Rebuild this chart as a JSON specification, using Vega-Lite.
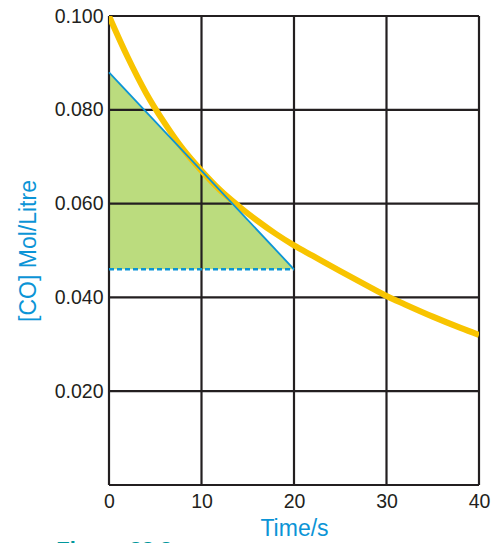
{
  "$schema": "https://vega.github.io/schema/vega-lite/v6.json",
  "autosize": {"type": "none"},
  "width": 370,
  "height": 469,
  "padding": {"left": 109, "top": 16, "right": 13, "bottom": 58},
  "background": "white",
  "config": {
    "view": {"stroke": null},
    "font": "Liberation Sans",
    "axis": {"grid": false, "domain": false, "ticks": false, "labelFont": "Liberation Sans", "labelFontSize": 19.5, "labelColor": "#231F20", "labelFlush": false, "titleFont": "Liberation Sans", "titleFontSize": 23, "titleFontWeight": "normal", "titleColor": "#0B94D6"}
  },
  "title": {"text": "Figure 23.3", "orient": "bottom", "anchor": "start", "dx": 39, "offset": -1, "fontSize": 22, "fontWeight": "bold", "color": "#00979C", "font": "Liberation Sans"},
  "datasets": {
    "curve": [
      {"t": 0, "co": 0.1},
      {"t": 2, "co": 0.0913},
      {"t": 4, "co": 0.0836},
      {"t": 6, "co": 0.0772},
      {"t": 8, "co": 0.0716},
      {"t": 10, "co": 0.067},
      {"t": 12, "co": 0.0629},
      {"t": 14, "co": 0.0595},
      {"t": 16, "co": 0.0564},
      {"t": 18, "co": 0.0536},
      {"t": 20, "co": 0.0511},
      {"t": 22, "co": 0.0489},
      {"t": 25, "co": 0.0456},
      {"t": 28, "co": 0.0424},
      {"t": 30, "co": 0.0403},
      {"t": 32, "co": 0.0385},
      {"t": 35, "co": 0.0359},
      {"t": 38, "co": 0.0335},
      {"t": 40, "co": 0.032}
    ],
    "triangle": [
      {"t": 0, "top": 0.088, "base": 0.046},
      {"t": 20, "top": 0.046, "base": 0.046}
    ],
    "xgrid": [{"t": 0}, {"t": 10}, {"t": 20}, {"t": 30}, {"t": 40}],
    "ygrid": [{"co": 0}, {"co": 0.02}, {"co": 0.04}, {"co": 0.06}, {"co": 0.08}, {"co": 0.1}]
  },
  "layer": [
    {
      "data": {"name": "triangle"},
      "mark": {"type": "area", "color": "#BBDC7E", "opacity": 1},
      "encoding": {
        "x": {"field": "t", "type": "quantitative", "scale": {"domain": [0, 40], "nice": false}, "axis": {"values": [0, 10, 20, 30, 40], "labelPadding": 7, "title": "Time/s", "titlePadding": 7}},
        "y": {"field": "top", "type": "quantitative", "scale": {"domain": [0, 0.1], "nice": false}, "axis": {"values": [0.02, 0.04, 0.06, 0.08, 0.1], "format": ".3f", "labelPadding": 6, "title": "[CO] Mol/Litre", "titlePadding": 14}},
        "y2": {"field": "base"}
      }
    },
    {
      "data": {"name": "xgrid"},
      "mark": {"type": "rule", "color": "#231F20", "strokeWidth": 2.2},
      "encoding": {"x": {"field": "t", "type": "quantitative"}}
    },
    {
      "data": {"name": "ygrid"},
      "mark": {"type": "rule", "color": "#231F20", "strokeWidth": 2.2},
      "encoding": {"y": {"field": "co", "type": "quantitative"}}
    },
    {
      "data": {"name": "curve"},
      "mark": {"type": "line", "color": "#F8C400", "strokeWidth": 6, "interpolate": "monotone", "clip": true},
      "encoding": {
        "x": {"field": "t", "type": "quantitative"},
        "y": {"field": "co", "type": "quantitative"}
      }
    },
    {
      "data": {"name": "triangle"},
      "mark": {"type": "line", "color": "#0B94D6", "strokeWidth": 1.8},
      "encoding": {
        "x": {"field": "t", "type": "quantitative"},
        "y": {"field": "top", "type": "quantitative"}
      }
    },
    {
      "data": {"name": "triangle"},
      "mark": {"type": "line", "color": "#0B94D6", "strokeWidth": 2.5, "strokeDash": [5, 3]},
      "encoding": {
        "x": {"field": "t", "type": "quantitative"},
        "y": {"field": "base", "type": "quantitative"}
      }
    }
  ]
}
